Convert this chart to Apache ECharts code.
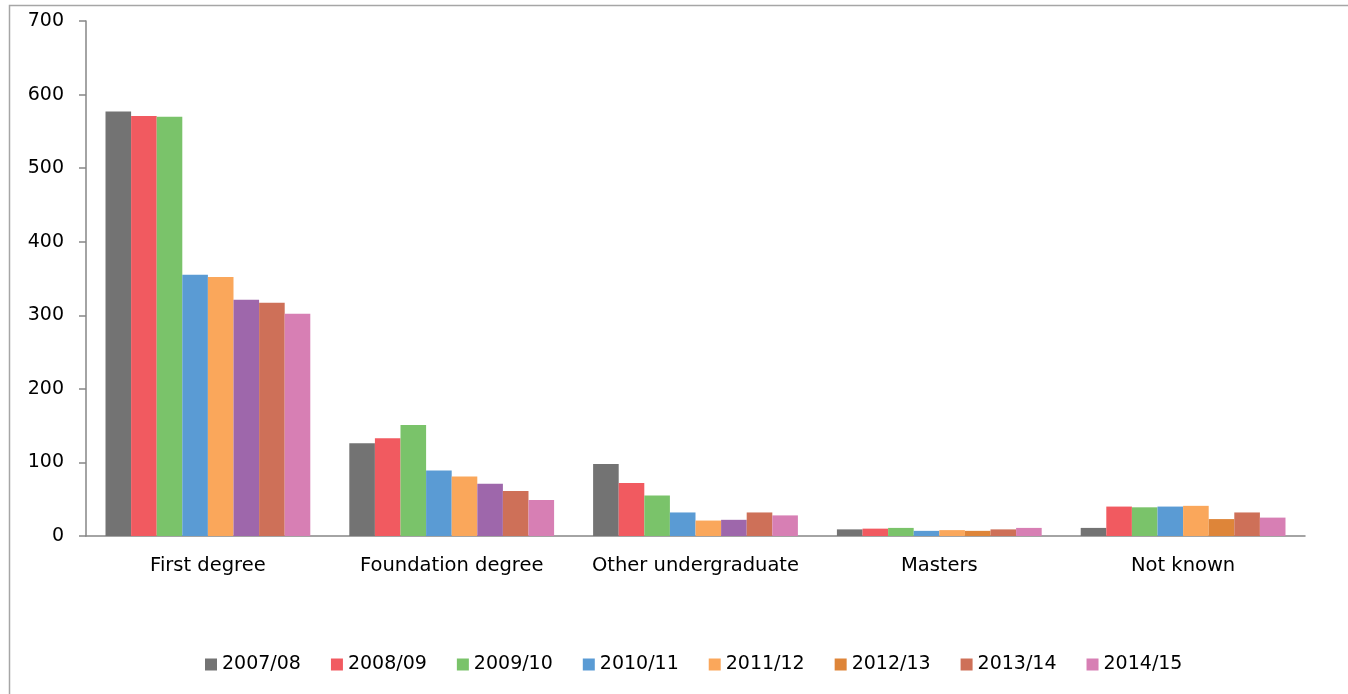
<!DOCTYPE html>
<html lang="en">
<head>
    <meta charset="UTF-8">
    <title>Qualifications by year</title>
    <script src="https://cdn.jsdelivr.net/npm/echarts@6/dist/echarts.min.js"></script>
    <style>
        html, body { margin: 0; padding: 0; background: #fff; }
        #chart { width: 1348px; height: 694px; }
    </style>
</head>
<body>
    <div id="chart"></div>
    <script>
        const categories = ['First degree', 'Foundation degree', 'Other undergraduate', 'Masters', 'Not known'];
        const years = ['2007/08', '2008/09', '2009/10', '2010/11', '2011/12', '2012/13', '2013/14', '2014/15'];

        const v2007 = [577, 126, 98, 9, 11];
        const v2008 = [571, 133, 72, 10, 40];
        const v2009 = [570, 151, 55, 11, 39];
        const v2010 = [355, 89, 32, 7, 40];
        const v2011 = [352, 81, 21, 8, 41];
        const v2012 = [321, 71, 22, 7, 23];
        const v2013 = [317, 61, 32, 9, 32];
        const v2014 = [302, 49, 28, 11, 25];

        const colors = ['#737373', '#F15A60', '#7AC36A', '#5A9BD4', '#FAA75B', '#DE8539', '#CE7058', '#D77FB4'];
        // in the original the 2012/13 bars of the first three groups are purple
        const purple = '#9E67AB';

        const allValues = [v2007, v2008, v2009, v2010, v2011, v2012, v2013, v2014];

        const series = allValues.map((vals, i) => ({
            name: years[i],
            type: 'bar',
            barGap: '0%',
            barCategoryGap: '16%',
            itemStyle: { color: colors[i] },
            data: vals.map((v, j) => (i === 5 && j < 3) ? { value: v, itemStyle: { color: purple } } : v)
        }));

        const chart = echarts.init(document.getElementById('chart'));
        chart.setOption({
            animation: false,
            textStyle: { fontFamily: 'DejaVu Sans', color: '#000' },
            graphic: [{
                type: 'rect',
                shape: { x: 9.5, y: 5.5, width: 1400, height: 800 },
                style: { fill: 'none', stroke: '#a6a6a6', lineWidth: 1.5 },
                silent: true
            }],
            grid: { left: 86, right: 43, top: 21, bottom: 158 },
            xAxis: {
                type: 'category',
                data: categories,
                axisLine: { lineStyle: { color: '#868686', width: 1.5 } },
                axisTick: { length: 7, lineStyle: { color: '#868686', width: 1.5 } },
                axisLabel: { fontSize: 19.5, color: '#000', margin: 20, interval: 0 }
            },
            yAxis: {
                type: 'value',
                min: 0,
                max: 700,
                interval: 100,
                splitLine: { show: false },
                axisLine: { show: true, lineStyle: { color: '#868686', width: 1.5 } },
                axisTick: { show: true, length: 7, lineStyle: { color: '#868686', width: 1.5 } },
                axisLabel: { fontSize: 19, color: '#000', margin: 22 }
            },
            legend: {
                data: years,
                bottom: 15,
                left: 200,
                itemWidth: 12,
                itemHeight: 12,
                itemGap: 30,
                icon: 'rect',
                textStyle: { fontSize: 19, color: '#000' }
            },
            series: series
        });
    </script>
</body>
</html>
